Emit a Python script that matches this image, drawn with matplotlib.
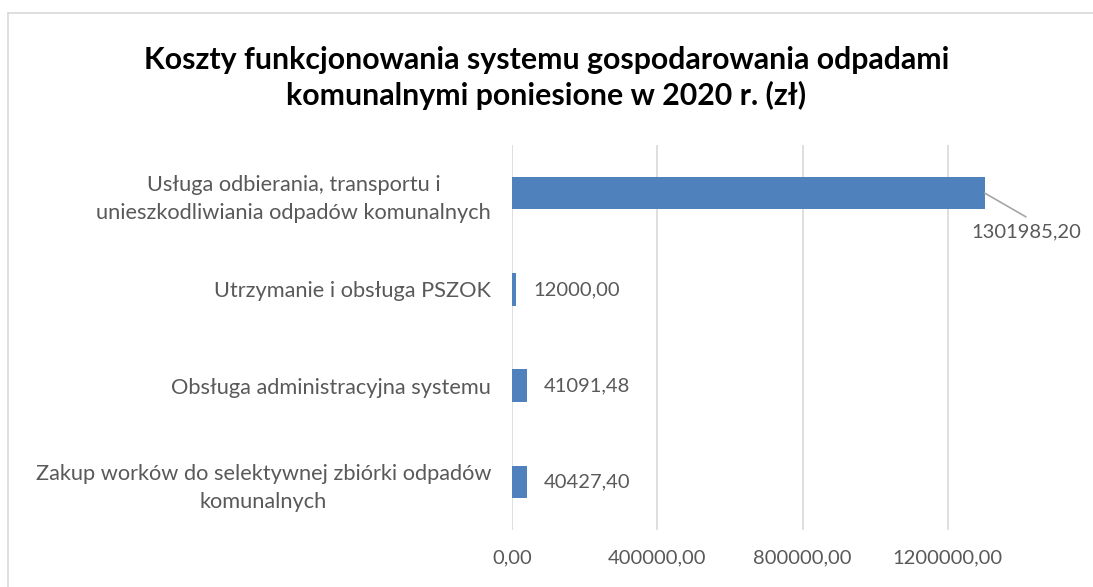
import matplotlib.pyplot as plt
from matplotlib.lines import Line2D

categories = [
    "Usługa odbierania, transportu i\nunieszkodliwiania odpadów komunalnych",
    "Utrzymanie i obsługa PSZOK",
    "Obsługa administracyjna systemu",
    "Zakup worków do selektywnej zbiórki odpadów\nkomunalnych",
]
values = [1301985.20, 12000.00, 41091.48, 40427.40]
xticks = [0, 400000, 800000, 1200000]

plt.rcParams['font.family'] = ['Lato', 'DejaVu Sans']
text_color = '#595959'
grid_color = '#D9D9D9'

fig = plt.figure(figsize=(10.93, 5.87), dpi=100)
ax = fig.add_axes([512 / 1093, 1 - 530 / 587, 581 / 1093, 385 / 587])

ypos = list(range(len(categories)))
ax.barh(ypos, values, height=0.34, color='#4F81BD', zorder=3)
ax.set_ylim(len(categories) - 0.5, -0.5)
ax.set_xlim(0, 1600000)

ax.set_yticks(ypos)
ax.set_yticklabels(categories, ha='right', multialignment='center',
                   fontsize=15.7, linespacing=1.5)
ax.set_xticks(xticks)
ax.set_xticklabels([f"{t:.2f}".replace('.', ',') for t in xticks], fontsize=14.5)
ax.tick_params(axis='both', length=0, labelcolor=text_color)
ax.tick_params(axis='y', pad=15)
ax.tick_params(axis='x', pad=14)
ax.grid(axis='x', color=grid_color, linewidth=1.2, zorder=0)
for s in ax.spines.values():
    s.set_visible(False)

# data labels
for i, v in enumerate(values):
    lab = f"{v:.2f}".replace('.', ',')
    if i == 0:
        ax.annotate(lab, xy=(v, i), xytext=(1415000, i + 0.4),
                    ha='center', va='center', fontsize=14.5, color=text_color,
                    arrowprops=dict(arrowstyle='-', color='#A6A6A6', lw=1.2,
                                    shrinkA=5, shrinkB=0, relpos=(0.6, 1.0)))
    else:
        ax.text(v + 47000, i, lab, ha='left', va='center', fontsize=14.5,
                color=text_color)

fig.text(0.5, 1 - 78 / 587,
         "Koszty funkcjonowania systemu gospodarowania odpadami\nkomunalnymi poniesione w 2020 r. (zł)",
         ha='center', va='center', fontsize=21.8, fontweight='bold',
         color='black', linespacing=1.3)

# chart border (cropped on right and bottom)
fig.add_artist(Line2D([8 / 1093, 8 / 1093], [0, 1 - 13 / 587],
                      transform=fig.transFigure, color=grid_color, lw=1.2))
fig.add_artist(Line2D([8 / 1093, 1], [1 - 13 / 587, 1 - 13 / 587],
                      transform=fig.transFigure, color=grid_color, lw=1.2))

plt.savefig('out.png', dpi=100)
plt.close()
